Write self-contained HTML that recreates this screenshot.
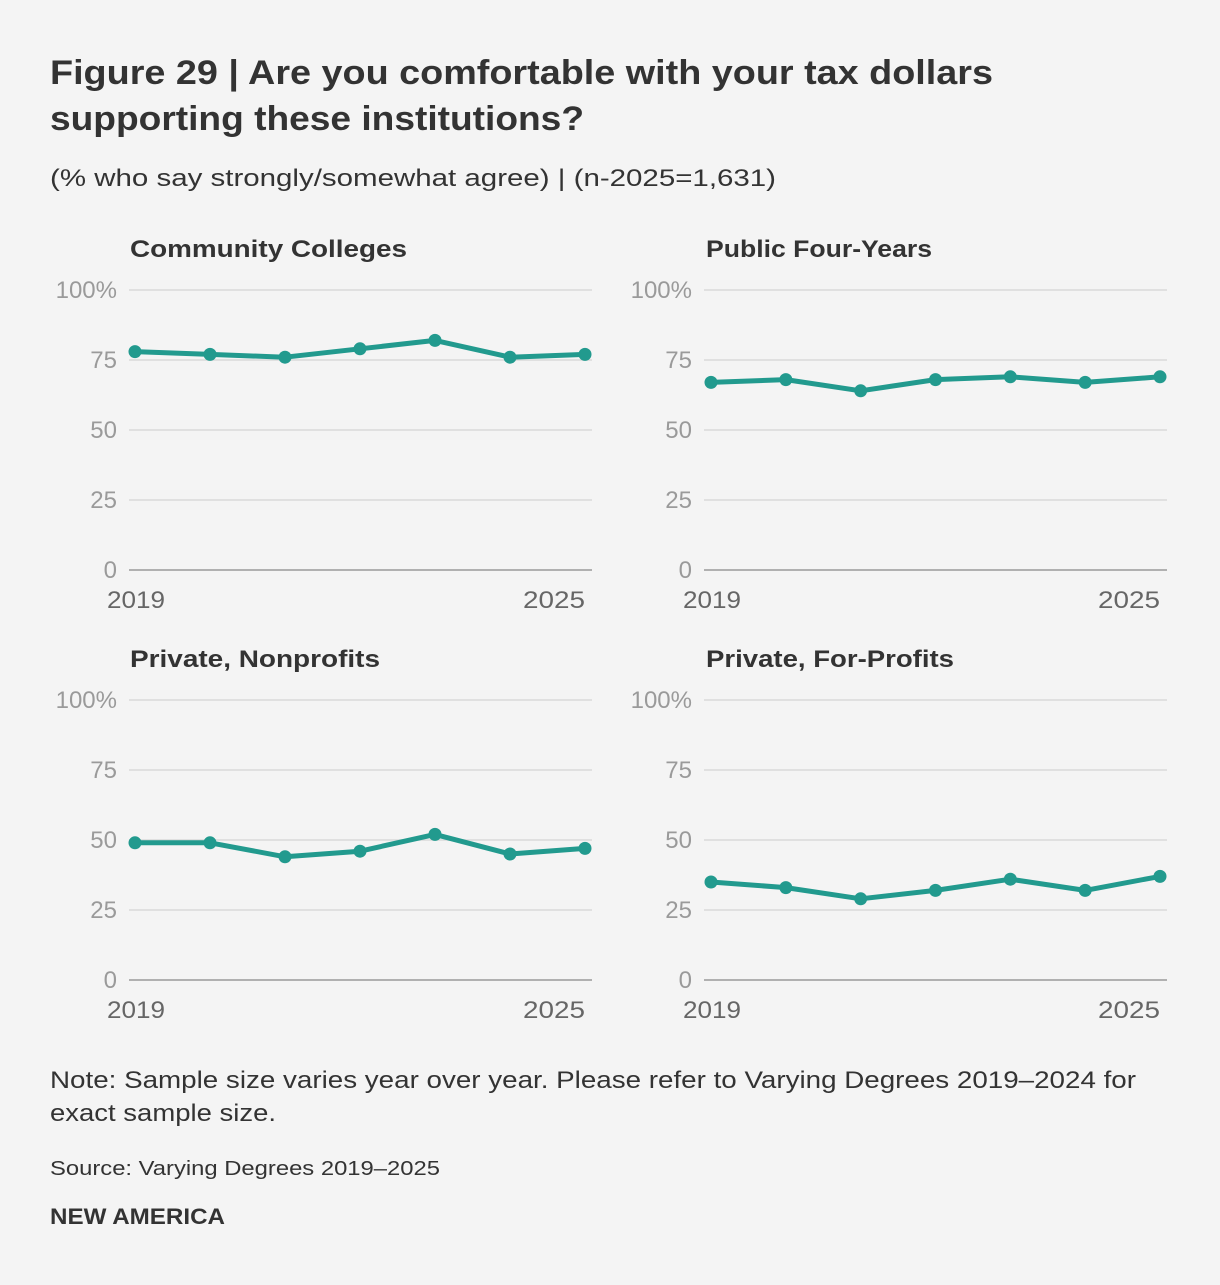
<!DOCTYPE html>
<html><head><meta charset="utf-8"><style>
body{margin:0;background:#f4f4f4;font-family:"Liberation Sans",sans-serif;}
svg text{font-family:"Liberation Sans",sans-serif;}
</style></head><body>
<svg width="1220" height="1280" viewBox="0 0 1220 1280" xmlns="http://www.w3.org/2000/svg">
<rect width="1220" height="1280" fill="#f4f4f4"/>
<text x="50" y="84" font-size="34" font-weight="bold" fill="#333" textLength="943" lengthAdjust="spacingAndGlyphs">Figure 29 | Are you comfortable with your tax dollars</text>
<text x="50" y="130" font-size="34" font-weight="bold" fill="#333" textLength="534" lengthAdjust="spacingAndGlyphs">supporting these institutions?</text>
<text x="50" y="186" font-size="24" fill="#333" textLength="726" lengthAdjust="spacingAndGlyphs">(% who say strongly/somewhat agree) | (n-2025=1,631)</text>
<g id="charts"></g>
<text x="50" y="1088" font-size="24" fill="#333" textLength="1086" lengthAdjust="spacingAndGlyphs">Note: Sample size varies year over year. Please refer to Varying Degrees 2019–2024 for</text>
<text x="50" y="1121" font-size="24" fill="#333" textLength="226" lengthAdjust="spacingAndGlyphs">exact sample size.</text>
<text x="50" y="1175" font-size="20" fill="#333" textLength="390" lengthAdjust="spacingAndGlyphs">Source: Varying Degrees 2019–2025</text>
<text x="50" y="1224" font-size="22" font-weight="bold" fill="#333" textLength="175" lengthAdjust="spacingAndGlyphs">NEW AMERICA</text>
</svg>
<script>
const years=[2019,2020,2021,2022,2023,2024,2025];
const panelTitles=["Community Colleges","Public Four-Years","Private, Nonprofits","Private, For-Profits"];
const communityColleges=[78,77,76,79,82,76,77];
const publicFourYears=[67,68,64,68,69,67,69];
const privateNonprofits=[49,49,44,46,52,45,47];
const privateForProfits=[35,33,29,32,36,32,37];
const yTicks=[0,25,50,75,100];
const yTickLabels=["0","25","50","75","100%"];
const xTickLabels=["2019","2025"];
const series=[communityColleges,publicFourYears,privateNonprofits,privateForProfits];
const titleWidths=[277,226,250,248];
const NS="http://www.w3.org/2000/svg";
const root=document.getElementById('charts');
function mk(tag,attrs,parent){const e=document.createElementNS(NS,tag);for(const k in attrs)e.setAttribute(k,attrs[k]);parent.appendChild(e);return e;}
const panels=[{x0:135,x1:585,g0:129,g1:592,top:290,bot:570,tx:130,ty:257},
{x0:711,x1:1160,g0:704,g1:1167,top:290,bot:570,tx:706,ty:257},
{x0:135,x1:585,g0:129,g1:592,top:700,bot:980,tx:130,ty:667},
{x0:711,x1:1160,g0:704,g1:1167,top:700,bot:980,tx:706,ty:667}];
panels.forEach((p,i)=>{
  const g=mk('g',{},root);
  
  
  const xs=v=>p.x0+(v-years[0])/(years[years.length-1]-years[0])*(p.x1-p.x0);
  const ys=v=>p.bot-v/100*(p.bot-p.top);
  const t=mk('text',{x:p.tx,y:p.ty,'font-size':24,'font-weight':'bold',fill:'#333',textLength:titleWidths[i],lengthAdjust:'spacingAndGlyphs'},g);
  t.textContent=panelTitles[i];
  
  
  yTicks.forEach((v,j)=>{
    const l=mk('line',{x1:p.g0,x2:p.g1,y1:ys(v),y2:ys(v),stroke:v===0?'#999':'#d9d9d9','stroke-width':1.5},g);
    
    
    const tl=mk('text',{x:p.g0-12,y:ys(v)+8,'font-size':24,fill:'#9a9a9a','text-anchor':'end'},g);
    tl.textContent=yTickLabels[j];
    
    
  });
  const xa=mk('text',{x:xs(years[0])-28,y:p.bot+38,'font-size':24,fill:'#666',textLength:58,lengthAdjust:'spacingAndGlyphs'},g);
  xa.textContent=xTickLabels[0];
  
  
  const xb=mk('text',{x:xs(years[years.length-1])-62,y:p.bot+38,'font-size':24,fill:'#666',textLength:62,lengthAdjust:'spacingAndGlyphs'},g);
  xb.textContent=xTickLabels[1];
  
  
  const d=series[i].map((v,k)=>(k?'L':'M')+xs(years[k])+','+ys(v)).join('');
  const path=mk('path',{d:d,fill:'none',stroke:'#229a8e','stroke-width':5,'stroke-linejoin':'round'},g);
  
  
  series[i].forEach((v,k)=>{
    const c=mk('circle',{cx:xs(years[k]),cy:ys(v),r:6.5,fill:'#229a8e'},g);
    
    
  });
});
</script>
</body></html>
